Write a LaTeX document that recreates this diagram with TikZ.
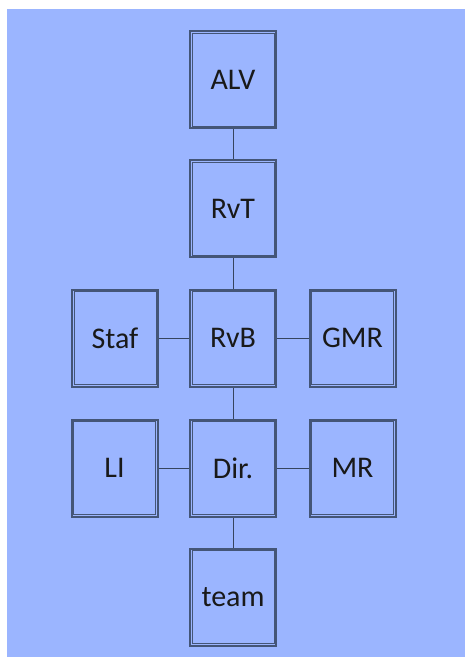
\documentclass[tikz,border=0pt]{standalone}
\usepackage{fontspec}
\setmainfont{Carlito}
\definecolor{bgc}{HTML}{9BB5FF}
\definecolor{bordc}{HTML}{445577}
\begin{document}
\begin{tikzpicture}[x=1pt,y=-1pt,
  orgbox/.style={draw=bordc, line width=2pt,
    minimum width=86pt, minimum height=97pt, inner sep=0pt, font=\fontsize{30}{33}\selectfont, text=black!90},
  innerline/.style={draw=bordc, line width=0.9pt},
  link/.style={draw=bordc!80!black, line width=0.9pt}]
\useasboundingbox (0,0) rectangle (465,657);
\fill[white] (0,0) rectangle (465,657);
\fill[bgc] (7,9) rectangle (465,657);
\node[orgbox] (alv)  at (233,79.5) {ALV};
\node[orgbox] (rvt)  at (233,208.5) {RvT};
\node[orgbox] (rvb)  at (233,338) {RvB};
\node[orgbox] (staf) at (115,338) {Staf};
\node[orgbox] (gmr)  at (352.5,338) {GMR};
\node[orgbox] (dir)  at (233,468) {Dir.};
\node[orgbox] (li)   at (114.5,468) {LI};
\node[orgbox] (mr)   at (352.5,468) {MR};
\node[orgbox] (team) at (233,597) {team};
\foreach \n in {alv,rvt,rvb,staf,gmr,dir,li,mr,team}
  \draw[innerline] ([shift={(3,3)}]\n.north west) rectangle ([shift={(-3,-3)}]\n.south east);
\draw[link] (alv) -- (rvt);
\draw[link] (rvt) -- (rvb);
\draw[link] (staf) -- (rvb);
\draw[link] (rvb) -- (gmr);
\draw[link] (rvb) -- (dir);
\draw[link] (li) -- (dir);
\draw[link] (dir) -- (mr);
\draw[link] (dir) -- (team);
\end{tikzpicture}
\end{document}
